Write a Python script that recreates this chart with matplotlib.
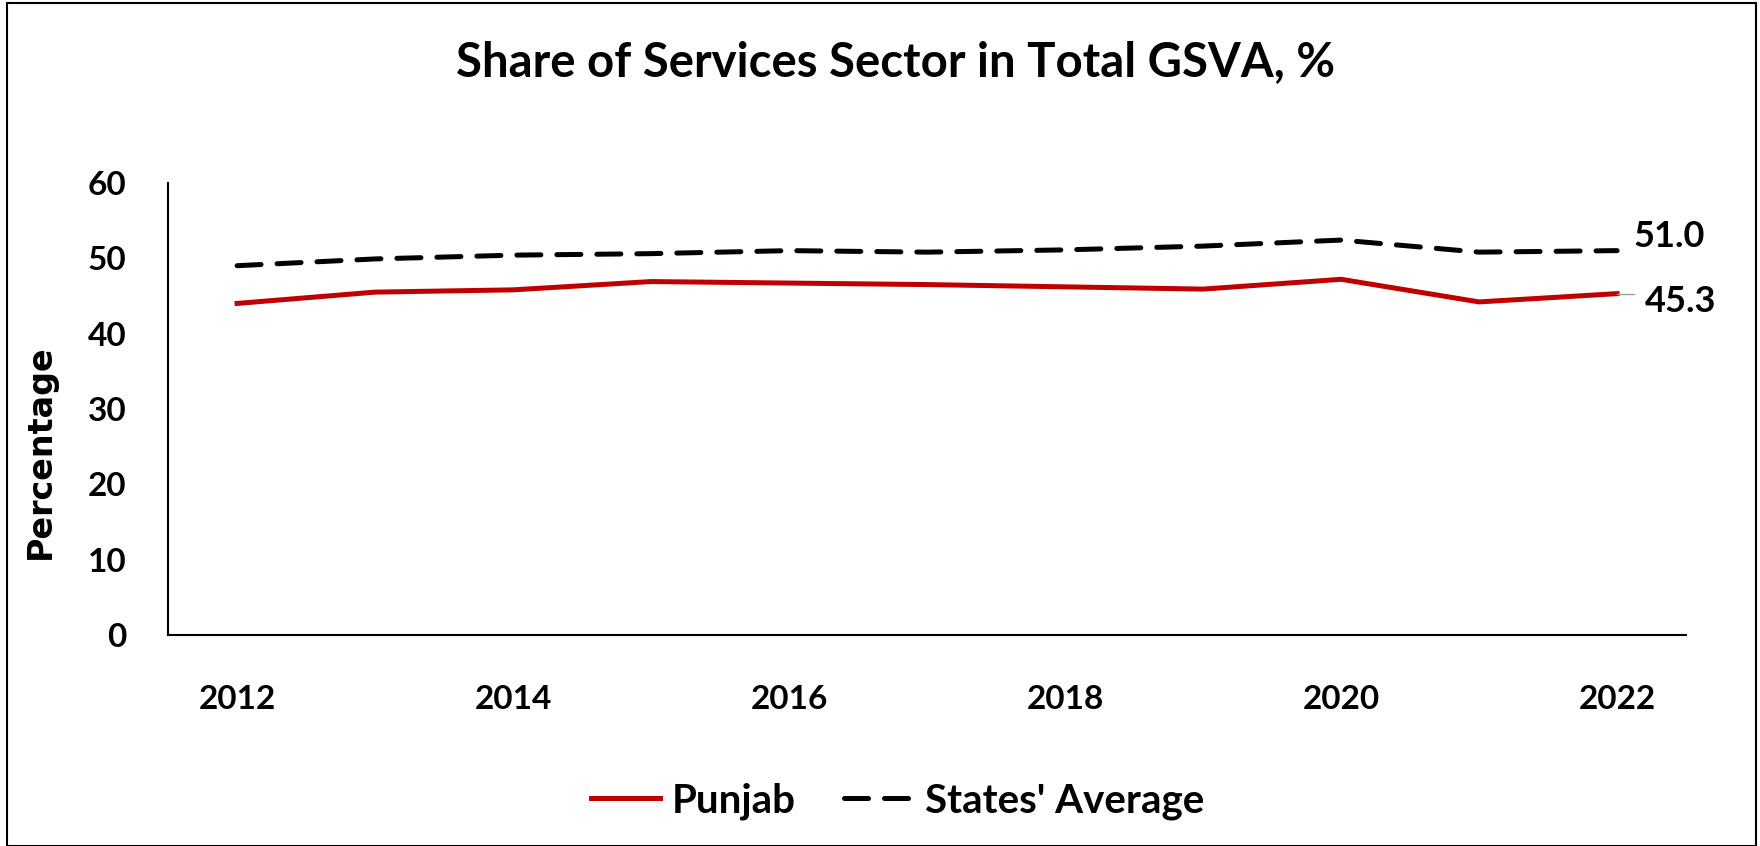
import numpy as np
import matplotlib
matplotlib.use('Agg')
import matplotlib.pyplot as plt
from matplotlib.patches import Rectangle

# data
years = [2012, 2013, 2014, 2015, 2016, 2017, 2018, 2019, 2020, 2021, 2022]
punjab = [44.0, 45.5, 45.8, 46.9, 46.7, 46.5, 46.2, 45.9, 47.2, 44.2, 45.3]
states_avg = [49.0, 49.9, 50.4, 50.6, 51.0, 50.8, 51.1, 51.6, 52.4, 50.8, 51.0]
xtick_years = [2012, 2014, 2016, 2018, 2020, 2022]
yticks = [0, 10, 20, 30, 40, 50, 60]

plt.rcParams['font.family'] = ['Lato', 'DejaVu Sans']
plt.rcParams['font.weight'] = 'bold'

fig = plt.figure(figsize=(17.6, 8.46), dpi=100)
ax = fig.add_axes([0.0955, 0.249, 0.8625, 0.535])

ax.plot(years, punjab, color='#c00000', lw=3.6, label='Punjab',
        solid_joinstyle='round')
ax.plot(years, states_avg, color='black', lw=3.6, dashes=(4.8, 3.2),
        dash_capstyle='round', label="States' Average")

ax.set_xlim(2011.5, 2022.5)
ax.set_ylim(0, 60)
ax.set_xticks(xtick_years)
ax.set_xticklabels([str(y) for y in xtick_years], fontsize=24, fontweight='bold')
ax.set_yticks(yticks)
ax.set_yticklabels([str(v) for v in yticks], fontsize=24, fontweight='bold')
ax.tick_params(axis='x', length=0, pad=36)
ax.tick_params(axis='y', length=0, pad=30)

for s in ['top', 'right']:
    ax.spines[s].set_visible(False)
for s in ['left', 'bottom']:
    ax.spines[s].set_linewidth(1.5)
    ax.spines[s].set_color('black')

ax.set_ylabel('Percentage', fontsize=24, fontweight='bold',
              family='DejaVu Sans')
ax.yaxis.set_label_coords(-0.073, 0.405)

# end labels
ax.annotate('%.1f' % states_avg[-1], xy=(years[-1], states_avg[-1]),
            xytext=(12, 10), textcoords='offset points',
            fontsize=26, fontweight='bold', va='center', ha='left')
ax.plot([years[-1], years[-1] + 0.12], [punjab[-1], punjab[-1]],
        color='#a0a0a0', lw=1)
ax.annotate('%.1f' % punjab[-1], xy=(years[-1], punjab[-1]),
            xytext=(20, -6), textcoords='offset points',
            fontsize=26, fontweight='bold', va='center', ha='left')

fig.text(0.509, 0.927, 'Share of Services Sector in Total GSVA, %', fontsize=34,
         fontweight='bold', ha='center', va='center')

leg = fig.legend(loc='center', bbox_to_anchor=(0.51, 0.053), ncol=2,
                 frameon=False, fontsize=29, handlelength=1.7,
                 columnspacing=1.2, handletextpad=0.3)

# outer border
fig.patches.append(Rectangle((0.004, 0.0), 0.994, 0.996, transform=fig.transFigure,
                             fill=False, edgecolor='black', lw=1.5))

fig.savefig('out.png', dpi=100)
